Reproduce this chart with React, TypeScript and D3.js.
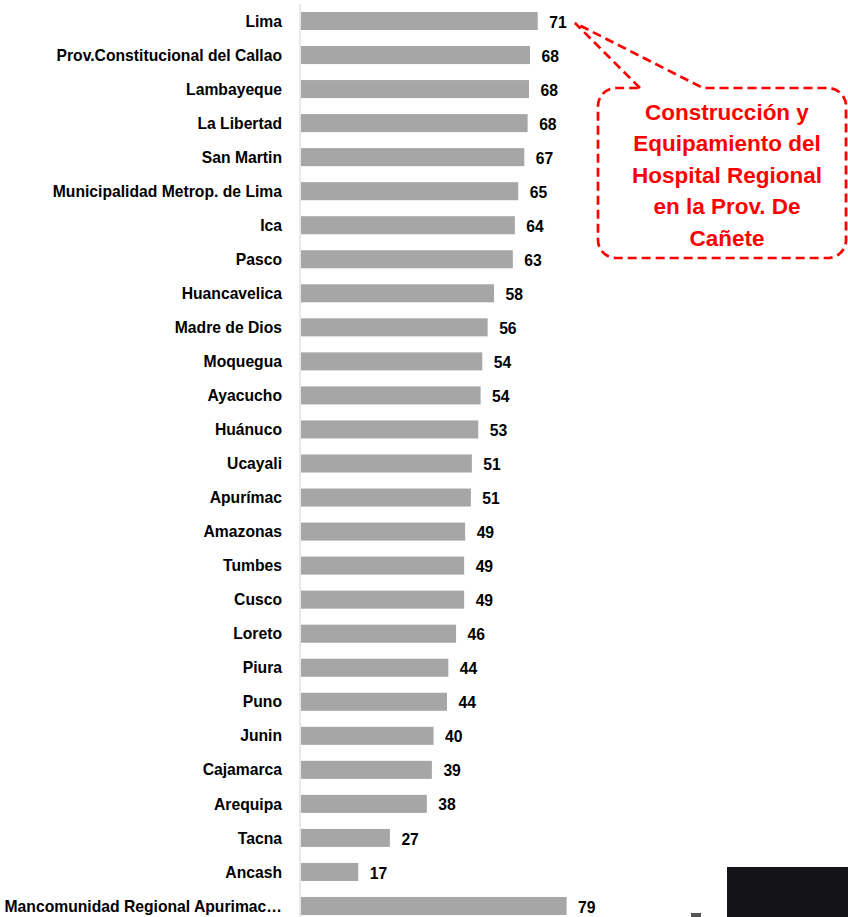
import React from "react";
import * as d3 from "d3";

const categories = [
  "Lima",
  "Prov.Constitucional del Callao",
  "Lambayeque",
  "La Libertad",
  "San Martin",
  "Municipalidad Metrop. de Lima",
  "Ica",
  "Pasco",
  "Huancavelica",
  "Madre de Dios",
  "Moquegua",
  "Ayacucho",
  "Huánuco",
  "Ucayali",
  "Apurímac",
  "Amazonas",
  "Tumbes",
  "Cusco",
  "Loreto",
  "Piura",
  "Puno",
  "Junin",
  "Cajamarca",
  "Arequipa",
  "Tacna",
  "Ancash",
  "Mancomunidad Regional Apurimac…",
];

// labels show the rounded value
const values = [
  70.6, 68.3, 68.0, 67.6, 66.6, 64.8, 63.8, 63.2, 57.6, 55.7, 54.1, 53.6, 52.9,
  51.0, 50.7, 49.0, 48.7, 48.7, 46.3, 44.0, 43.6, 39.6, 39.1, 37.6, 26.6, 17.2,
  79.2,
];

const calloutLines = [
  "Construcción y",
  "Equipamiento del",
  "Hospital Regional",
  "en la Prov. De",
  "Cañete",
];

const width = 848;
const height = 917;
const FONT = "'Liberation Sans', Arial, sans-serif";

export default function App() {
  // layout
  const x = d3.scaleLinear().domain([0, 79.2]).range([300.5, 300.5 + 79.2 * 3.36]);
  const y = d3
    .scaleBand<string>()
    .domain(categories)
    .range([3.98, 923.02])
    .paddingInner(0.47)
    .paddingOuter(0.235);

  // callout shape: rounded box with a pointer towards the Lima value
  const box = { x0: 598, y0: 88, x1: 846, y1: 258, r: 18 };
  const tip = [575, 23];
  const base = [640, 703];
  const p = d3.path();
  p.moveTo(base[0], box.y0);
  p.lineTo(tip[0], tip[1]);
  p.lineTo(base[1], box.y0);
  p.lineTo(box.x1 - box.r, box.y0);
  p.arcTo(box.x1, box.y0, box.x1, box.y0 + box.r, box.r);
  p.lineTo(box.x1, box.y1 - box.r);
  p.arcTo(box.x1, box.y1, box.x1 - box.r, box.y1, box.r);
  p.lineTo(box.x0 + box.r, box.y1);
  p.arcTo(box.x0, box.y1, box.x0, box.y1 - box.r, box.r);
  p.lineTo(box.x0, box.y0 + box.r);
  p.arcTo(box.x0, box.y0, box.x0 + box.r, box.y0, box.r);
  p.closePath();

  const lineY = d3
    .scalePoint<string>()
    .domain(calloutLines)
    .range([111.5, 238]);

  return (
    <div style={{ position: "absolute", left: 0, top: 0 }}>
      <svg width={width} height={height} style={{ display: "block" }}>
        <rect width={width} height={height} fill="#ffffff" />

        {/* axis line */}
        <line x1={300} x2={300} y1={4} y2={height} stroke="#d9d9d9" strokeWidth={1.2} />

        {categories.map((c, i) => {
          const yc = (y(c) ?? 0) + y.bandwidth() / 2;
          return (
            <g key={c}>
              <rect
                x={x(0) + 0.5}
                y={y(c)}
                width={x(values[i]) - x(0) - 0.5}
                height={y.bandwidth()}
                fill="#a6a6a6"
              />
              <text
                x={282}
                y={yc}
                dy="0.36em"
                textAnchor="end"
                fontFamily={FONT}
                fontWeight="bold"
                fontSize={15.7}
                fill="#000"
              >
                {c}
              </text>
              <text
                x={x(values[i]) + 11.5}
                y={yc}
                dy="0.42em"
                fontFamily={FONT}
                fontWeight="bold"
                fontSize={15.7}
                fill="#000"
              >
                {Math.round(values[i])}
              </text>
            </g>
          );
        })}

        {/* callout */}
        <path
          d={p.toString()}
          fill="none"
          stroke="#ff0000"
          strokeWidth={2.7}
          strokeDasharray="9 5"
        />
        {calloutLines.map((l) => (
          <text
            key={l}
            x={727}
            y={lineY(l)}
            dy="0.36em"
            textAnchor="middle"
            fontFamily={FONT}
            fontWeight="bold"
            fontSize={22.5}
            fill="#ff0000"
          >
            {l}
          </text>
        ))}

        {/* screenshot edge artefacts */}
        <rect x={727} y={867} width={121} height={50} fill="#141418" />
        <rect x={691} y={913} width={10} height={4} fill="#555555" />
      </svg>
    </div>
  );
}
